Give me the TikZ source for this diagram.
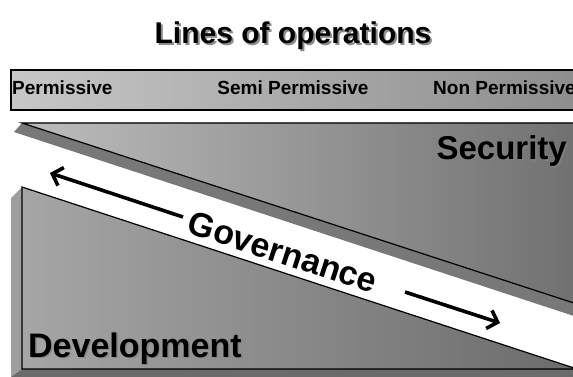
\documentclass[tikz,border=0pt]{standalone}
\usepackage{fontspec}
\setmainfont{Liberation Sans}
\usetikzlibrary{arrows.meta, positioning, calc}
\definecolor{barleft}{gray}{0.78}
\definecolor{barright}{gray}{0.55}
\definecolor{secleft}{gray}{0.74}
\definecolor{secright}{gray}{0.44}
\definecolor{secshade}{gray}{0.47}
\definecolor{devleft}{gray}{0.65}
\definecolor{devmid}{gray}{0.70}
\definecolor{devright}{gray}{0.42}
\definecolor{devside}{gray}{0.62}
\definecolor{devfloor}{gray}{0.42}
\begin{document}
\begin{tikzpicture}[x=1pt, y=-1pt]
		\tikzstyle{edge}=[draw=black, line width=1.2pt]
		\tikzstyle{bar}=[draw=black, line width=1.6pt, minimum height=40pt, minimum width=575pt, left color=barleft, right color=barright, anchor=north west, inner sep=0pt]
		\tikzstyle{barlabel}=[font=\fontsize{19}{22}\selectfont\bfseries, text=black, inner sep=0pt]
		\tikzstyle{biglabel}=[font=\fontsize{34}{40}\selectfont\bfseries, inner sep=0pt]
		\tikzstyle{halo}=[text=black!50, opacity=0.8]
		\tikzstyle{govarrow}=[line width=3.6pt, -{Straight Barb[length=9pt, width=19pt]}]
		
		\useasboundingbox (0,0) rectangle (573,377);
		\clip (0,0) rectangle (573,377);
		
		%% title with its shadow
		\node[font=\fontsize{30}{34}\selectfont\bfseries, text=black!45, anchor=base] (titleshade) at (295,46) {Lines of operations};
		\node[font=\fontsize{30}{34}\selectfont\bfseries, anchor=base] (title) at (293,44) {Lines of operations};
		
		%% scale of environments
		\node[bar] (scale) at (10,69) {};
		\node[barlabel, anchor=base west] (perm) at (12,95) {Permissive};
		\node[barlabel, anchor=base] (semi) at (293,95) {Semi Permissive};
		\node[barlabel, anchor=base west] (nonperm) at (433,95) {Non Permissive};
		
		%% security wedge
		\fill[secshade] (22,123) -- (14,132) -- (580,318) -- (580,305) -- cycle;
		\fill[left color=secleft, right color=secright] (22,123) -- (580,123) -- (580,305) -- cycle;
		\draw[edge] (580,305) -- (22,123) -- (580,123);
		
		%% development wedge
		\fill[devside] (22,187) -- (11,198) -- (11,377) -- (22,369) -- cycle;
		\fill[devfloor] (22,369) -- (11,377) -- (580,377) -- (580,369) -- cycle;
		\fill[left color=devleft, middle color=devmid, right color=devright] (22,187) -- (22,369) -- (577,369) -- cycle;
		\draw[edge] (22,187) -- (22,369) -- (577,369) -- cycle;
		
		%% governance band
		\node[biglabel, rotate=-18.1] (gov) at (283,252) {Governance};
		\coordinate (govlfrom) at (183,217);
		\coordinate (govlto) at (50,173);
		\coordinate (govrfrom) at (405,292);
		\coordinate (govrto) at (500,323);
		\draw[govarrow] (govlfrom) -- (govlto);
		\draw[govarrow] (govrfrom) -- (govrto);
		
		%% wedge labels
		\node[biglabel, halo, font=\fontsize{33}{40}\selectfont\bfseries, anchor=base east] (secshadow) at (568.5,161.5) {Security};
		\node[biglabel, font=\fontsize{33}{40}\selectfont\bfseries, anchor=base east] (sec) at (567,160) {Security};
		\node[biglabel, halo, anchor=base west] (devshadow) at (29.5,358.5) {Development};
		\node[biglabel, anchor=base west] (dev) at (28,357) {Development};
		
\end{tikzpicture}
\end{document}
